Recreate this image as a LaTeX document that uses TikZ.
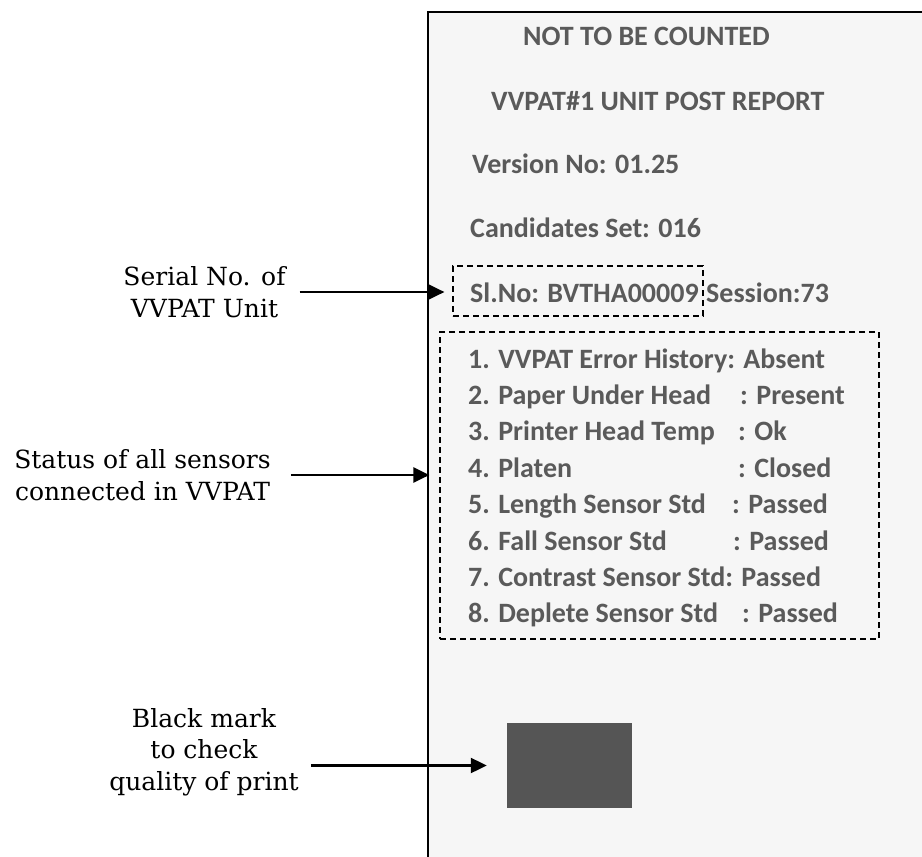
\documentclass[tikz,border=0pt]{standalone}
\usepackage{fontspec}
\usetikzlibrary{arrows.meta,positioning}
\newfontfamily\notefont{DejaVu Serif}
\newfontfamily\slipfont{Carlito}
\definecolor{slipbg}{HTML}{F6F6F6}
\definecolor{ink}{HTML}{5A5A5A}
\definecolor{markgray}{HTML}{555555}
\tikzset{
  note/.style={font=\notefont\fontsize{25}{31.5}\selectfont,align=center,inner sep=0pt},
  slip/.style={font=\slipfont\bfseries\fontsize{28}{28}\selectfont,text=ink,anchor=base west,inner sep=0pt},
  dashbox/.style={draw,dash pattern=on 6pt off 4pt,line width=1.2pt,inner sep=0pt},
  pointer/.style={-{Triangle[length=16pt,width=15pt]},line width=2.2pt},
}
\begin{document}
\begin{tikzpicture}[x=1pt,y=-1pt]
			\useasboundingbox[fill=white] (0,0) rectangle (922,857);
			%%% paper slip
			\fill[slipbg] (428,12) rectangle (922,857);
			\draw[line width=1.3pt] (922,12)--(428,12)--(428,857);
			%%% header
			\path (523,45) node[slip] (title) {NOT TO BE COUNTED};
			\path (491,110) node[slip] (report) {VVPAT\#1 UNIT POST REPORT};
			\path (472,173) node[slip] (version) {Version No: 01.25};
			\path (470,237) node[slip] (candidates) {Candidates Set: 016};
			\path (470,302) node[slip] (serial) {Sl.No: BVTHA00009};
			\path (706,302) node[slip] (session) {Session:73};
			\node[dashbox,minimum width=250pt,minimum height=50pt] (slno) at (578,291) {};
			%%% sensor status
			\path (468,368) node[slip] (s1) {1. VVPAT Error History: Absent};
			\path (468,404.4) node[slip] (s2) {2. Paper Under Head};
			\path (740,404.4) node[slip] {: Present};
			\path (468,440.8) node[slip] (s3) {3. Printer Head Temp};
			\path (738,440.8) node[slip] {: Ok};
			\path (468,477.2) node[slip] (s4) {4. Platen};
			\path (738,477.2) node[slip] {: Closed};
			\path (468,513.6) node[slip] (s5) {5. Length Sensor Std};
			\path (732,513.6) node[slip] {: Passed};
			\path (468,550) node[slip] (s6) {6. Fall Sensor Std};
			\path (733,550) node[slip] {: Passed};
			\path (468,586.4) node[slip] (s7) {7. Contrast Sensor Std: Passed};
			\path (468,622.8) node[slip] (s8) {8. Deplete Sensor Std};
			\path (742,622.8) node[slip] {: Passed};
			\node[dashbox,minimum width=439pt,minimum height=307pt] (sensors) at (659.5,485.5) {};
			%%% black mark
			\node[fill=markgray,minimum width=125pt,minimum height=85pt,inner sep=0pt] (mark) at (569.5,765.5) {};
			%%% callouts
			\node[note] (seriallabel) at (204.5,292) {Serial No. of\\VVPAT Unit};
			\draw[pointer,shorten <=14pt,shorten >=8pt] (seriallabel.east)--(seriallabel.east -| slno.west);
			\node[note] (statuslabel) at (142.5,475) {Status of all sensors\\connected in VVPAT};
			\draw[pointer,shorten <=20pt,shorten >=10pt] (statuslabel.east)--(statuslabel.east -| sensors.west);
			\node[note] (marklabel) at (204,752) {Black mark\\to check\\quality of print};
			\draw[pointer,shorten <=12pt,shorten >=20pt] (marklabel.east |- mark.west)--(mark.west);
		\end{tikzpicture}
\end{document}
